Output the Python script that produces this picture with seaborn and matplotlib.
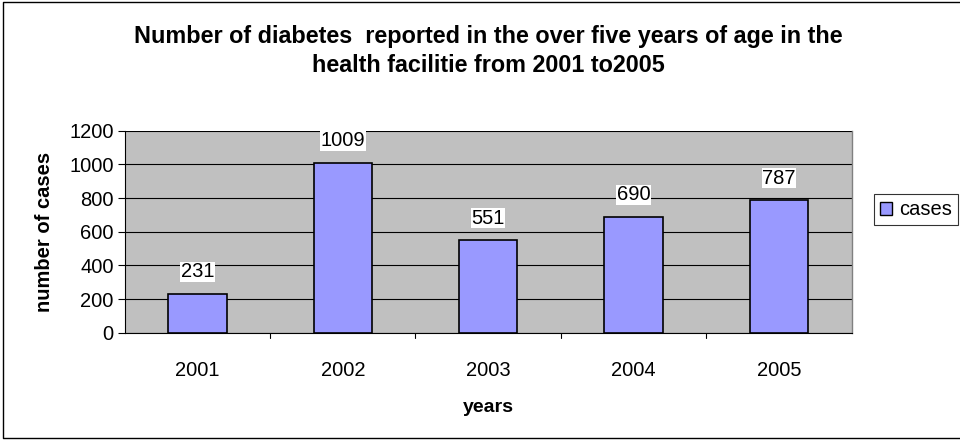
import matplotlib
matplotlib.use("Agg")
import matplotlib.pyplot as plt
import seaborn as sns
import pandas as pd
from matplotlib.patches import Patch
from matplotlib.lines import Line2D

years = ["2001", "2002", "2003", "2004", "2005"]
cases = [231, 1009, 551, 690, 787]
y_ticks = [0, 200, 400, 600, 800, 1000, 1200]

title = "Number of diabetes  reported in the over five years of age in the\nhealth facilitie from 2001 to2005"

sns.set_theme(style="white")
plt.rcParams["font.family"] = ["Liberation Sans", "DejaVu Sans"]
plt.rcParams.update({"text.color": "black", "axes.labelcolor": "black",
                     "xtick.color": "black", "ytick.color": "black"})

df = pd.DataFrame({"years": years, "cases": cases})

fig = plt.figure(figsize=(9.6, 4.42), dpi=100)
ax = fig.add_axes([0.130, 0.247, 0.757, 0.457])
ax.set_facecolor("#C0C0C0")

sns.barplot(data=df, x="years", y="cases", color="#9999FF", width=0.4,
            edgecolor="black", linewidth=1.2, saturation=1, ax=ax, zorder=3)

ax.set_ylim(0, 1200)
ax.set_yticks(y_ticks)
ax.set_xlim(-0.5, len(years) - 0.5)
ax.yaxis.grid(True, color="black", linewidth=0.8, zorder=0)
ax.set_axisbelow(True)

ax.spines["top"].set_visible(False)
ax.spines["right"].set_color("#808080")
ax.spines["right"].set_linewidth(1.0)
for s in ["left", "bottom"]:
    ax.spines[s].set_color("black")
    ax.spines[s].set_linewidth(0.8)

ax.tick_params(axis="y", which="both", left=True, length=5, width=0.8,
               color="black", labelsize=14.5, pad=3)
ax.set_xticks(range(len(years)))
ax.set_xticklabels(years)
ax.tick_params(axis="x", bottom=False, labelsize=14.5, pad=14)
# tick marks between categories
for b in [i + 0.5 for i in range(len(years) - 1)]:
    ax.plot([b, b], [0, -0.025], transform=ax.get_xaxis_transform(),
            color="black", linewidth=0.8, clip_on=False)

for i, v in enumerate(cases):
    ax.annotate(str(v), xy=(i, v), xytext=(0, 9), textcoords="offset points",
                ha="center", va="bottom", fontsize=14.5,
                bbox=dict(facecolor="white", edgecolor="none", pad=0.3), zorder=5)

ax.set_xlabel("years", fontsize=14, fontweight="bold", labelpad=14)
ax.set_ylabel("number of cases", fontsize=14.5, fontweight="bold", labelpad=11)

fig.text(0.509, 0.885, title, ha="center", va="center", fontsize=16.8,
         fontweight="bold", linespacing=1.3)

leg = fig.legend(handles=[Patch(facecolor="#9999FF", edgecolor="black", label="cases")],
                 loc="center left", bbox_to_anchor=(0.910, 0.525), fontsize=14.5,
                 frameon=True, fancybox=False, edgecolor="black",
                 handlelength=0.6, handleheight=0.6, handletextpad=0.35,
                 borderpad=0.3, borderaxespad=0)
leg.get_frame().set_linewidth(0.8)

# chart border (left, top, bottom)
fig.add_artist(Line2D([1.0, 0.003, 0.003, 1.0], [0.995, 0.995, 0.008, 0.008],
                      transform=fig.transFigure, color="black", linewidth=1.0))

fig.savefig("out.png", dpi=100)
